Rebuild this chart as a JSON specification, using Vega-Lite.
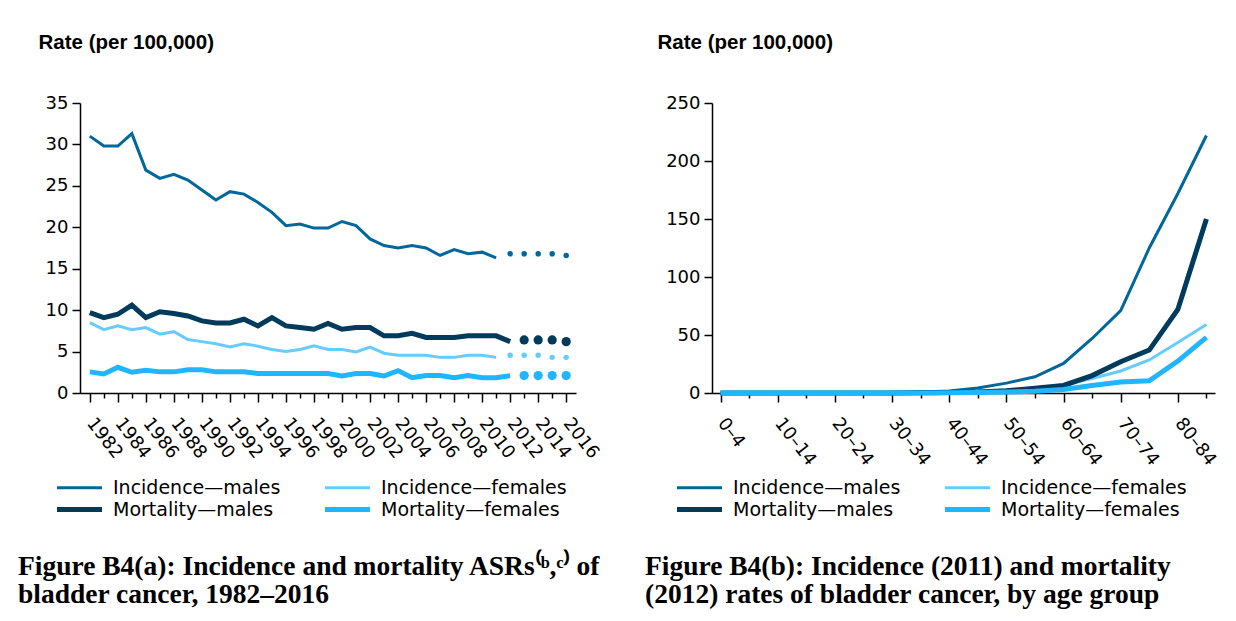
{
  "$schema": "https://vega.github.io/schema/vega-lite/v6.json",
  "background": "white",
  "padding": {"left": 18, "top": 32, "right": 5, "bottom": 5},
  "bounds": "flush",
  "spacing": 136,
  "config": {
    "font": "DejaVu Sans",
    "view": {"stroke": null},
    "axis": {"domainColor": "#000", "domainWidth": 1.5, "tickColor": "#000", "tickWidth": 1.5, "labelColor": "#000", "labelFont": "DejaVu Sans", "labelFontSize": 18, "grid": false, "tickSize": 8, "labelPadding": 4,
      "titleFont": "Liberation Sans", "titleFontSize": 20.5, "titleFontWeight": "bold", "titleColor": "#000", "titleAngle": 0, "titleAlign": "left", "titleBaseline": "middle"},
    "legend": {"orient": "none", "direction": "horizontal", "symbolType": "M-2.5,0H2.5", "symbolSize": 324, "labelFont": "DejaVu Sans", "labelFontSize": 19, "labelColor": "#000", "labelLimit": 400, "columns": 2, "columnPadding": 34, "rowPadding": -3, "labelOffset": 22, "padding": 0},
    "title": {"font": "Liberation Serif", "fontSize": 27.5, "fontWeight": "bold", "color": "#000", "anchor": "start", "orient": "bottom", "frame": "group", "offset": 33, "lineHeight": 28}
  },
  "datasets": {
    "trend": [
      {"year": 1982, "kind": "observed", "Incidence—males": 31.0, "Incidence—females": 8.5, "Mortality—males": 9.7, "Mortality—females": 2.55},
      {"year": 1983, "kind": "observed", "Incidence—males": 29.8, "Incidence—females": 7.65, "Mortality—males": 9.1, "Mortality—females": 2.3},
      {"year": 1984, "kind": "observed", "Incidence—males": 29.8, "Incidence—females": 8.1, "Mortality—males": 9.5, "Mortality—females": 3.1},
      {"year": 1985, "kind": "observed", "Incidence—males": 31.3, "Incidence—females": 7.65, "Mortality—males": 10.6, "Mortality—females": 2.5},
      {"year": 1986, "kind": "observed", "Incidence—males": 26.9, "Incidence—females": 7.9, "Mortality—males": 9.1, "Mortality—females": 2.75},
      {"year": 1987, "kind": "observed", "Incidence—males": 25.9, "Incidence—females": 7.1, "Mortality—males": 9.8, "Mortality—females": 2.55},
      {"year": 1988, "kind": "observed", "Incidence—males": 26.4, "Incidence—females": 7.4, "Mortality—males": 9.6, "Mortality—females": 2.55},
      {"year": 1989, "kind": "observed", "Incidence—males": 25.7, "Incidence—females": 6.45, "Mortality—males": 9.3, "Mortality—females": 2.8},
      {"year": 1990, "kind": "observed", "Incidence—males": 24.5, "Incidence—females": 6.2, "Mortality—males": 8.7, "Mortality—females": 2.8},
      {"year": 1991, "kind": "observed", "Incidence—males": 23.3, "Incidence—females": 5.95, "Mortality—males": 8.45, "Mortality—females": 2.55},
      {"year": 1992, "kind": "observed", "Incidence—males": 24.3, "Incidence—females": 5.55, "Mortality—males": 8.45, "Mortality—females": 2.55},
      {"year": 1993, "kind": "observed", "Incidence—males": 24.0, "Incidence—females": 5.95, "Mortality—males": 8.9, "Mortality—females": 2.55},
      {"year": 1994, "kind": "observed", "Incidence—males": 23.0, "Incidence—females": 5.65, "Mortality—males": 8.1, "Mortality—females": 2.35},
      {"year": 1995, "kind": "observed", "Incidence—males": 21.8, "Incidence—females": 5.25, "Mortality—males": 9.1, "Mortality—females": 2.35},
      {"year": 1996, "kind": "observed", "Incidence—males": 20.2, "Incidence—females": 5.0, "Mortality—males": 8.1, "Mortality—females": 2.35},
      {"year": 1997, "kind": "observed", "Incidence—males": 20.4, "Incidence—females": 5.25, "Mortality—males": 7.9, "Mortality—females": 2.35},
      {"year": 1998, "kind": "observed", "Incidence—males": 19.9, "Incidence—females": 5.7, "Mortality—males": 7.7, "Mortality—females": 2.35},
      {"year": 1999, "kind": "observed", "Incidence—males": 19.9, "Incidence—females": 5.25, "Mortality—males": 8.4, "Mortality—females": 2.35},
      {"year": 2000, "kind": "observed", "Incidence—males": 20.7, "Incidence—females": 5.25, "Mortality—males": 7.7, "Mortality—females": 2.05},
      {"year": 2001, "kind": "observed", "Incidence—males": 20.2, "Incidence—females": 4.95, "Mortality—males": 7.9, "Mortality—females": 2.35},
      {"year": 2002, "kind": "observed", "Incidence—males": 18.6, "Incidence—females": 5.55, "Mortality—males": 7.9, "Mortality—females": 2.35},
      {"year": 2003, "kind": "observed", "Incidence—males": 17.8, "Incidence—females": 4.8, "Mortality—males": 6.9, "Mortality—females": 2.05},
      {"year": 2004, "kind": "observed", "Incidence—males": 17.5, "Incidence—females": 4.55, "Mortality—males": 6.9, "Mortality—females": 2.7},
      {"year": 2005, "kind": "observed", "Incidence—males": 17.8, "Incidence—females": 4.55, "Mortality—males": 7.2, "Mortality—females": 1.85},
      {"year": 2006, "kind": "observed", "Incidence—males": 17.5, "Incidence—females": 4.55, "Mortality—males": 6.7, "Mortality—females": 2.1},
      {"year": 2007, "kind": "observed", "Incidence—males": 16.6, "Incidence—females": 4.3, "Mortality—males": 6.7, "Mortality—females": 2.1},
      {"year": 2008, "kind": "observed", "Incidence—males": 17.3, "Incidence—females": 4.3, "Mortality—males": 6.7, "Mortality—females": 1.85},
      {"year": 2009, "kind": "observed", "Incidence—males": 16.8, "Incidence—females": 4.55, "Mortality—males": 6.9, "Mortality—females": 2.1},
      {"year": 2010, "kind": "observed", "Incidence—males": 17.0, "Incidence—females": 4.55, "Mortality—males": 6.9, "Mortality—females": 1.85},
      {"year": 2011, "kind": "observed", "Incidence—males": 16.3, "Incidence—females": 4.3, "Mortality—males": 6.9, "Mortality—females": 1.85},
      {"year": 2012, "kind": "observed", "Mortality—males": 6.2, "Mortality—females": 2.1},
      {"year": 2012, "kind": "projected", "Incidence—males": 16.8, "Incidence—females": 4.55},
      {"year": 2013, "kind": "projected", "Incidence—males": 16.8, "Incidence—females": 4.55, "Mortality—males": 6.4, "Mortality—females": 2.1},
      {"year": 2014, "kind": "projected", "Incidence—males": 16.8, "Incidence—females": 4.55, "Mortality—males": 6.4, "Mortality—females": 2.1},
      {"year": 2015, "kind": "projected", "Incidence—males": 16.8, "Incidence—females": 4.3, "Mortality—males": 6.4, "Mortality—females": 2.1},
      {"year": 2016, "kind": "projected", "Incidence—males": 16.6, "Incidence—females": 4.3, "Mortality—males": 6.2, "Mortality—females": 2.1}
    ],
    "age": [
      {"age": "0–4", "Incidence—males": 0.1, "Incidence—females": 0, "Mortality—males": 0, "Mortality—females": 0},
      {"age": "5–9", "Incidence—males": 0.1, "Incidence—females": 0, "Mortality—males": 0, "Mortality—females": 0},
      {"age": "10–14", "Incidence—males": 0.1, "Incidence—females": 0, "Mortality—males": 0, "Mortality—females": 0},
      {"age": "15–19", "Incidence—males": 0.1, "Incidence—females": 0, "Mortality—males": 0, "Mortality—females": 0},
      {"age": "20–24", "Incidence—males": 0.2, "Incidence—females": 0.1, "Mortality—males": 0, "Mortality—females": 0},
      {"age": "25–29", "Incidence—males": 0.3, "Incidence—females": 0.1, "Mortality—males": 0, "Mortality—females": 0},
      {"age": "30–34", "Incidence—males": 0.5, "Incidence—females": 0.2, "Mortality—males": 0.1, "Mortality—females": 0},
      {"age": "35–39", "Incidence—males": 0.9, "Incidence—females": 0.3, "Mortality—males": 0.2, "Mortality—females": 0.1},
      {"age": "40–44", "Incidence—males": 1.8, "Incidence—females": 0.6, "Mortality—males": 0.4, "Mortality—females": 0.2},
      {"age": "45–49", "Incidence—males": 4.3, "Incidence—females": 1.2, "Mortality—males": 0.9, "Mortality—females": 0.4},
      {"age": "50–54", "Incidence—males": 8.5, "Incidence—females": 2.5, "Mortality—males": 2, "Mortality—females": 0.8},
      {"age": "55–59", "Incidence—males": 14, "Incidence—females": 4.5, "Mortality—males": 4, "Mortality—females": 1.6},
      {"age": "60–64", "Incidence—males": 25.5, "Incidence—females": 7, "Mortality—males": 6.5, "Mortality—females": 3},
      {"age": "65–69", "Incidence—males": 47, "Incidence—females": 12.5, "Mortality—males": 15, "Mortality—females": 6.5},
      {"age": "70–74", "Incidence—males": 71, "Incidence—females": 19, "Mortality—males": 27, "Mortality—females": 9.5},
      {"age": "75–79", "Incidence—males": 125, "Incidence—females": 28.5, "Mortality—males": 37, "Mortality—females": 10.5},
      {"age": "80–84", "Incidence—males": 172, "Incidence—females": 43.5, "Mortality—males": 72, "Mortality—females": 27.5},
      {"age": "85+", "Incidence—males": 222, "Incidence—females": 59, "Mortality—males": 150, "Mortality—females": 48}
    ]
  },
  "resolve": {
    "scale": {"stroke": "independent", "strokeWidth": "independent", "fill": "independent"},
    "legend": {"stroke": "independent", "strokeWidth": "independent"}
  },
  "hconcat": [
    {
      "width": 496,
      "height": 290,
      "data": {"name": "trend"},
      "transform": [
        {"fold": ["Incidence—males", "Incidence—females", "Mortality—males", "Mortality—females"], "as": ["series", "rate"]},
        {"filter": "isValid(datum.rate)"}
      ],
      "title": {"text": ["Figure B4(a): Incidence and mortality ASRs⁽ᵇ,ᶜ⁾ of", "bladder cancer, 1982–2016"], "dx": -62},
      "encoding": {
        "x": {"field": "year", "type": "quantitative", "scale": {"domain": [1981.3, 2016.7], "nice": false, "zero": false},
          "axis": {"title": null, "values": [1982, 1983, 1984, 1985, 1986, 1987, 1988, 1989, 1990, 1991, 1992, 1993, 1994, 1995, 1996, 1997, 1998, 1999, 2000, 2001, 2002, 2003, 2004, 2005, 2006, 2007, 2008, 2009, 2010, 2011, 2012, 2013, 2014, 2015, 2016],
            "labelExpr": "datum.value % 2 === 0 ? '' + datum.value : ''", "labelAngle": 52, "labelOverlap": false, "labelFlush": false, "labelPadding": 18,
            "tickSize": {"condition": {"test": "datum.value % 2 === 0", "value": 9}, "value": 5}}},
        "y": {"field": "rate", "type": "quantitative", "scale": {"domain": [0, 35], "nice": false},
          "axis": {"title": "Rate (per 100,000)", "titleX": -42, "titleY": -61, "values": [0, 5, 10, 15, 20, 25, 30, 35]}}
      },
      "layer": [
        {
          "transform": [{"filter": "datum.kind === 'observed'"}],
          "mark": {"type": "line", "strokeJoin": "miter"},
          "encoding": {
            "stroke": {"field": "series", "type": "nominal",
              "scale": {"domain": ["Incidence—males", "Incidence—females", "Mortality—males", "Mortality—females"], "range": ["#00679A", "#66CCFF", "#003B5C", "#1FB5FF"]},
              "legend": {"title": null, "legendX": -12, "legendY": 374}},
            "strokeWidth": {"field": "series", "type": "nominal",
              "scale": {"type": "ordinal", "domain": ["Incidence—males", "Incidence—females", "Mortality—males", "Mortality—females"], "range": [3, 3, 5, 5]},
              "legend": {"title": null, "legendX": -12, "legendY": 374}}
          }
        },
        {
          "transform": [{"filter": "datum.kind === 'projected' && indexof(datum.series, 'Incidence') === 0"}],
          "mark": {"type": "point", "filled": true, "opacity": 1, "size": 30},
          "encoding": {
            "fill": {"field": "series", "type": "nominal",
              "scale": {"domain": ["Incidence—males", "Incidence—females", "Mortality—males", "Mortality—females"], "range": ["#00679A", "#66CCFF", "#003B5C", "#1FB5FF"]},
              "legend": null}
          }
        },
        {
          "transform": [{"filter": "datum.kind === 'projected' && indexof(datum.series, 'Mortality') === 0"}],
          "mark": {"type": "point", "filled": true, "opacity": 1, "size": 85},
          "encoding": {
            "fill": {"field": "series", "type": "nominal",
              "scale": {"domain": ["Incidence—males", "Incidence—females", "Mortality—males", "Mortality—females"], "range": ["#00679A", "#66CCFF", "#003B5C", "#1FB5FF"]},
              "legend": null}
          }
        }
      ]
    },
    {
      "width": 503,
      "height": 290,
      "data": {"name": "age"},
      "transform": [
        {"fold": ["Incidence—males", "Incidence—females", "Mortality—males", "Mortality—females"], "as": ["series", "rate"]}
      ],
      "title": {"text": ["Figure B4(b): Incidence (2011) and mortality", "(2012) rates of bladder cancer, by age group"], "dx": -67},
      "mark": {"type": "line", "strokeJoin": "miter"},
      "encoding": {
        "x": {"field": "age", "type": "ordinal",
          "scale": {"type": "point", "padding": 0.3, "domain": ["0–4", "5–9", "10–14", "15–19", "20–24", "25–29", "30–34", "35–39", "40–44", "45–49", "50–54", "55–59", "60–64", "65–69", "70–74", "75–79", "80–84", "85+"]},
          "axis": {"title": null, "labelAngle": 52, "labelOverlap": false, "labelPadding": 18,
            "labelExpr": "indexof(['0–4','10–14','20–24','30–34','40–44','50–54','60–64','70–74','80–84'], datum.value) >= 0 ? datum.value : ''",
            "tickSize": {"condition": {"test": "indexof(['0–4','10–14','20–24','30–34','40–44','50–54','60–64','70–74','80–84'], datum.value) >= 0", "value": 9}, "value": 5}}},
        "y": {"field": "rate", "type": "quantitative", "scale": {"domain": [0, 250], "nice": false},
          "axis": {"title": "Rate (per 100,000)", "titleX": -55, "titleY": -61, "values": [0, 50, 100, 150, 200, 250]}},
        "stroke": {"field": "series", "type": "nominal",
          "scale": {"domain": ["Incidence—males", "Incidence—females", "Mortality—males", "Mortality—females"], "range": ["#00679A", "#66CCFF", "#003B5C", "#1FB5FF"]},
          "legend": {"title": null, "legendX": -24, "legendY": 374}},
        "strokeWidth": {"field": "series", "type": "nominal",
          "scale": {"type": "ordinal", "domain": ["Incidence—males", "Incidence—females", "Mortality—males", "Mortality—females"], "range": [3, 3, 5, 5]},
          "legend": {"title": null, "legendX": -24, "legendY": 374}}
      }
    }
  ]
}
